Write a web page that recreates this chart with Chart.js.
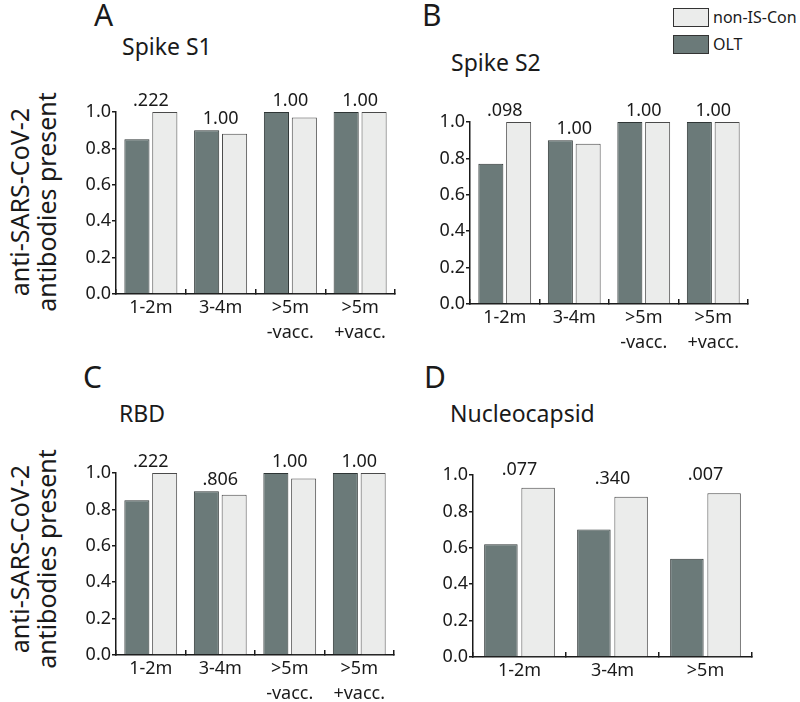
<!DOCTYPE html>
<html>
<head>
<meta charset="utf-8">
<script src="https://cdn.jsdelivr.net/npm/chart.js@4/dist/chart.umd.min.js"></script>
<style>
  html, body { margin: 0; padding: 0; background: #fff; overflow: hidden; }
  #page { position: relative; width: 800px; height: 702px; font-family: "Noto Sans", sans-serif; color: #1a1a1a; }
  #page canvas { position: absolute; }
  .txt { position: absolute; white-space: nowrap; line-height: 1; }
  .letter { font-size: 30px; }
  .ptitle { font-size: 23px; }
  .ytitle { position: absolute; width: 240px; height: 54px; font-size: 25px; line-height: 27px;
            text-align: center; transform: rotate(-90deg); white-space: nowrap; }
  .lgbox { position: absolute; width: 34px; height: 17px; border: 1px solid #333; }
  .lgtxt { position: absolute; font-size: 16px; line-height: 1; }
</style>
</head>
<body>
<div id="page">
  <div class="txt letter" style="left:94px; top:0px;">A</div>
  <div class="txt ptitle" style="left:122px; top:35px;">Spike S1</div>
  <div class="txt letter" style="left:422px; top:0px;">B</div>
  <div class="txt ptitle" style="left:451px; top:51px;">Spike S2</div>
  <div class="txt letter" style="left:83px; top:362px;">C</div>
  <div class="txt ptitle" style="left:119px; top:402px;">RBD</div>
  <div class="txt letter" style="left:424px; top:362px;">D</div>
  <div class="txt ptitle" style="left:450px; top:402px;">Nucleocapsid</div>

  <div class="ytitle" style="left:-87px; top:175px;">anti-SARS-CoV-2<br>antibodies present</div>
  <div class="ytitle" style="left:-87px; top:532px;">anti-SARS-CoV-2<br>antibodies present</div>

  <div class="lgbox" style="left:673px; top:8px; background:#ebeceb;"></div>
  <div class="lgtxt" style="left:713px; top:9px;">non-IS-Con</div>
  <div class="lgbox" style="left:673px; top:35px; background:#6b7a79;"></div>
  <div class="lgtxt" style="left:713px; top:36px;">OLT</div>

  <canvas id="chartA" width="345" height="267" style="left:56px; top:82px;"></canvas>
  <canvas id="chartB" width="344" height="267" style="left:410px; top:92px;"></canvas>
  <canvas id="chartC" width="344" height="267" style="left:56px; top:443px;"></canvas>
  <canvas id="chartD" width="345" height="267" style="left:413px; top:445px;"></canvas>
</div>

<script>
// categories
const timeLabels4 = ['1-2m', '3-4m', ['>5m', '-vacc.'], ['>5m', '+vacc.']];
const timeLabels3 = ['1-2m', '3-4m', '>5m'];
const yTicks = [0, 0.2, 0.4, 0.6, 0.8, 1.0];

// Spike S1
const s1Olt = [0.85, 0.90, 1.00, 1.00];
const s1Con = [1.00, 0.88, 0.97, 1.00];
const s1P = ['.222', '1.00', '1.00', '1.00'];

// Spike S2
const s2Olt = [0.77, 0.90, 1.00, 1.00];
const s2Con = [1.00, 0.88, 1.00, 1.00];
const s2P = ['.098', '1.00', '1.00', '1.00'];

// RBD
const rbdOlt = [0.85, 0.90, 1.00, 1.00];
const rbdCon = [1.00, 0.88, 0.97, 1.00];
const rbdP = ['.222', '.806', '1.00', '1.00'];

// Nucleocapsid
const ncOlt = [0.62, 0.70, 0.54];
const ncCon = [0.93, 0.88, 0.90];
const ncP = ['.077', '.340', '.007'];

Chart.defaults.font.family = '"Noto Sans", sans-serif';
Chart.defaults.color = '#1a1a1a';

const AXIS = '#1a1a1a';

// p-values above each pair of bars
const pValuePlugin = {
    id: 'pValues',
    afterDatasetsDraw(chart, args, opts) {
        const ctx = chart.ctx;
        const m0 = chart.getDatasetMeta(0);
        const m1 = chart.getDatasetMeta(1);
        const yScale = chart.scales.y;
        ctx.save();
        ctx.font = '18px "Noto Sans", sans-serif';
        ctx.fillStyle = '#1a1a1a';
        ctx.textAlign = 'center';
        ctx.textBaseline = 'alphabetic';
        opts.labels.forEach((txt, i) => {
            const x = (m0.data[i].x + m1.data[i].x) / 2;
            const top = Math.max(chart.data.datasets[0].data[i], chart.data.datasets[1].data[i]);
            ctx.fillText(txt, x, yScale.getPixelForValue(top) - opts.pad);
        });
        ctx.restore();
    }
};

function makePanel(id, labels, olt, con, pvals, pad) {
    return new Chart(document.getElementById(id), {
        type: 'bar',
        data: {
            labels: labels,
            datasets: [
                { label: 'OLT', data: olt, backgroundColor: '#6b7a79', borderColor: '#2e3535', borderWidth: 1 },
                { label: 'non-IS-Con', data: con, backgroundColor: '#ebeceb', borderColor: '#4a4a4a', borderWidth: 1 }
            ]
        },
        options: {
            responsive: false,
            animation: false,
            devicePixelRatio: 1,
            categoryPercentage: 0.8,
            barPercentage: 0.9,
            layout: { padding: { top: 30, right: 6, left: 0, bottom: 0 } },
            plugins: {
                legend: { display: false },
                tooltip: { enabled: false },
                pValues: { labels: pvals, pad: pad }
            },
            scales: {
                x: {
                    afterFit: s => { s.height = 55; },
                    grid: { drawOnChartArea: false, drawTicks: true, tickLength: -5, color: AXIS, lineWidth: 1.5 },
                    border: { display: true, color: AXIS, width: 1.5 },
                    ticks: { font: { size: 18, lineHeight: 1.35 }, padding: 7, maxRotation: 0, autoSkip: false }
                },
                y: {
                    min: 0,
                    max: 1,
                    afterFit: s => { s.width = 60; },
                    afterBuildTicks: s => { s.ticks = yTicks.map(v => ({ value: v })); },
                    grid: { drawOnChartArea: false, drawTicks: true, tickLength: 4, color: AXIS, lineWidth: 1.5 },
                    border: { display: true, color: AXIS, width: 1.5 },
                    ticks: { font: { size: 18 }, padding: 1, callback: v => v.toFixed(1) }
                }
            }
        },
        plugins: [pValuePlugin]
    });
}

makePanel('chartA', timeLabels4, s1Olt, s1Con, s1P, 6);
makePanel('chartB', timeLabels4, s2Olt, s2Con, s2P, 6);
makePanel('chartC', timeLabels4, rbdOlt, rbdCon, rbdP, 6);
makePanel('chartD', timeLabels3, ncOlt, ncCon, ncP, 13);
</script>
</body>
</html>
